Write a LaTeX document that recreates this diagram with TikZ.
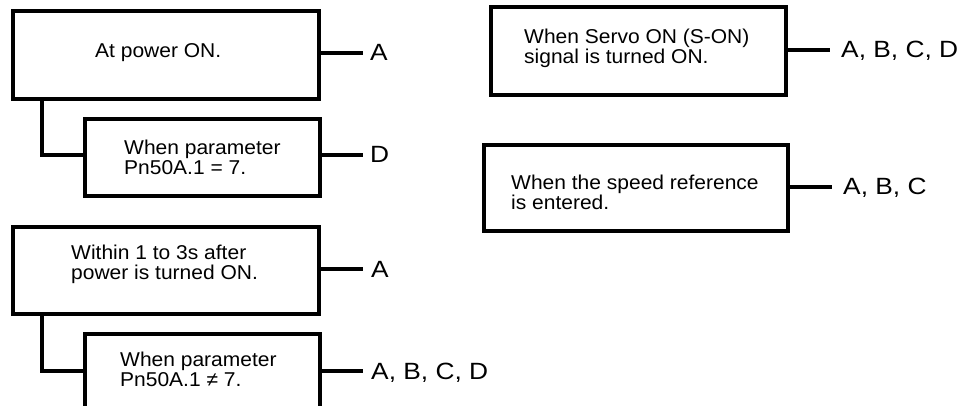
\documentclass[tikz,border=0pt]{standalone}
\usepackage{fontspec}
\setmainfont{Liberation Sans}
\newfontfamily\boxfont[FakeStretch=1.05]{Liberation Sans}
\newfontfamily\labfont[FakeStretch=1.12]{Liberation Sans}
\tikzset{
  boxnode/.style={draw, line width=3.7pt, inner sep=0pt, anchor=north west},
  txt/.style={inner sep=0pt, anchor=north west, align=left,
    font=\boxfont\fontsize{20}{19.8}\selectfont},
  lab/.style={inner sep=0pt, anchor=base west,
    font=\labfont\fontsize{23.5}{23.5}\selectfont},
  conn/.style={line width=3.4pt}
}
\begin{document}
\begin{tikzpicture}[x={(1pt,0)}, y={(0,-1pt)}]
\clip (0,0) rectangle (964,406);
\fill[white] (0,0) rectangle (964,406);
% boxes
\node[boxnode, minimum width=306pt, minimum height=88pt] (b1) at (11,9) {};
\node[boxnode, minimum width=235pt, minimum height=77pt] (b2) at (83,117) {};
\node[boxnode, minimum width=306pt, minimum height=87pt] (b3) at (11,225) {};
\node[boxnode, minimum width=235pt, minimum height=100pt] (b4) at (83,332) {};
\node[boxnode, minimum width=295pt, minimum height=88pt] (b5) at (489,5) {};
\node[boxnode, minimum width=304pt, minimum height=86pt] (b6) at (482,143) {};
% texts
\node[txt] (t1) at (95,43) {At power ON.};
\node[txt] (t2) at (124,140) {When parameter\\Pn50A.1 = 7.};
\node[txt] (t3) at (71,245) {Within 1 to 3s after\\power is turned ON.};
\node[txt] (t4) at (120,352) {When parameter\\Pn50A.1 ≠ 7.};
\node[txt] (t5) at (524,29) {When Servo ON (S-ON)\\signal is turned ON.};
\node[txt] (t6) at (511,175) {When the speed reference\\is entered.};
% connector end points
\coordinate (e1) at (363,53);
\coordinate (e2) at (363,155);
\coordinate (e3) at (363,269);
\coordinate (e4) at (363,371);
\coordinate (e5) at (830,50);
\coordinate (e6) at (832,187);
% labels
\node[lab] (l1) at (370,61) {A};
\node[lab] (l2) at (370,163) {D};
\node[lab] (l3) at (371,277) {A};
\node[lab] (l4) at (371,379) {A, B, C, D};
\node[lab] (l5) at (841,58) {A, B, C, D};
\node[lab] (l6) at (843,195) {A, B, C};
% connectors
\draw[conn] (b1.east |- e1) -- (e1);
\draw[conn] (b2.east |- e2) -- (e2);
\draw[conn] (b3.east |- e3) -- (e3);
\draw[conn] (b4.east |- e4) -- (e4);
\draw[conn] (b5.east |- e5) -- (e5);
\draw[conn] (b6.east |- e6) -- (e6);
% tree connectors
\coordinate (k1) at (42,155);
\coordinate (k2) at (42,371);
\draw[conn] (b1.south -| k1) -- (k1) -- (b2.west |- k1);
\draw[conn] (b3.south -| k2) -- (k2) -- (b4.west |- k2);
\end{tikzpicture}
\end{document}
